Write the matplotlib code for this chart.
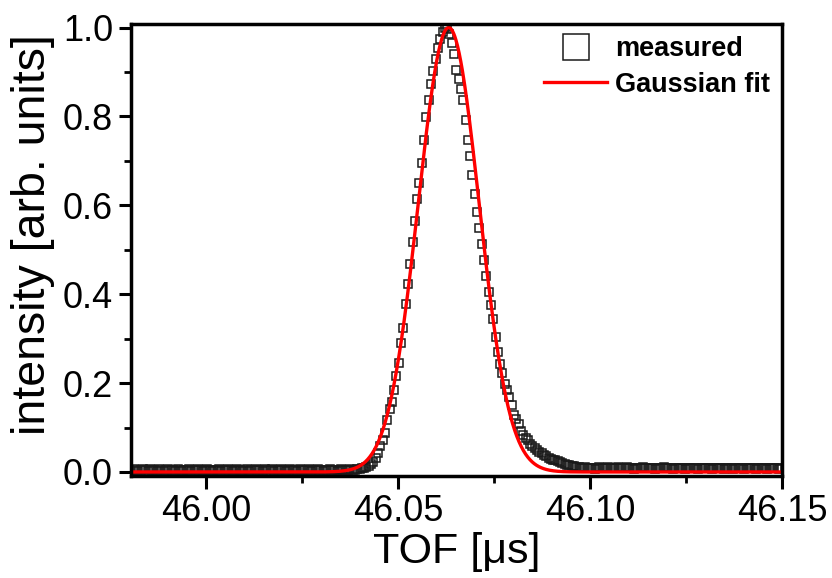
import numpy as np
import matplotlib
matplotlib.use("Agg")
import matplotlib.pyplot as plt
from matplotlib.ticker import MultipleLocator

# TOF sampling: start and step of the measured bins [us]
tof_start = 45.98
tof_step = 0.0006

# measured intensity, left baseline (45.980 .. 46.0394)
baseline_left = [
    0.005, 0.003, 0.006, 0.004, 0.002, 0.005, 0.007, 0.004, 0.003, 0.006,
    0.004, 0.005, 0.002, 0.006, 0.004, 0.003, 0.005, 0.007, 0.004, 0.005,
    0.003, 0.006, 0.004, 0.002, 0.005, 0.004, 0.006, 0.003, 0.005, 0.004,
    0.007, 0.004, 0.003, 0.005, 0.006, 0.004, 0.002, 0.005, 0.004, 0.006,
    0.003, 0.005, 0.004, 0.007, 0.005, 0.003, 0.004, 0.006, 0.005, 0.003,
    0.004, 0.006, 0.003, 0.005, 0.004, 0.007, 0.004, 0.005, 0.003, 0.006,
    0.004, 0.005, 0.006, 0.003, 0.004, 0.005, 0.007, 0.004, 0.003, 0.005,
    0.006, 0.004, 0.005, 0.003, 0.006, 0.004, 0.005, 0.004, 0.006, 0.003,
    0.005, 0.004, 0.006, 0.005, 0.003, 0.005, 0.004, 0.006, 0.004, 0.005,
    0.003, 0.005, 0.006, 0.004, 0.005, 0.004, 0.006, 0.005, 0.005, 0.006,
]

# measured intensity over the peak (46.0400 .. 46.0970)
peak = [
    0.006, 0.008, 0.010, 0.012, 0.014, 0.017, 0.023, 0.032, 0.043, 0.058,
    0.072, 0.087, 0.118, 0.141, 0.158, 0.185, 0.216, 0.246, 0.290, 0.325,
    0.379, 0.423, 0.469, 0.517, 0.565, 0.615, 0.650, 0.695, 0.748, 0.798,
    0.838, 0.874, 0.902, 0.930, 0.955, 0.975, 0.990, 0.998, 0.996, 0.985,
    0.965, 0.940, 0.905, 0.885, 0.862, 0.836, 0.793, 0.747, 0.712, 0.668,
    0.625, 0.586, 0.549, 0.512, 0.476, 0.441, 0.406, 0.375, 0.345, 0.303,
    0.270, 0.243, 0.222, 0.199, 0.185, 0.169, 0.150, 0.128, 0.120, 0.109,
    0.093, 0.083, 0.077, 0.072, 0.063, 0.058, 0.053, 0.049, 0.046, 0.042,
    0.038, 0.035, 0.031, 0.029, 0.027, 0.026, 0.024, 0.023, 0.021, 0.018,
    0.016, 0.015, 0.014, 0.013, 0.012, 0.011,
]

# measured intensity, right baseline (46.0976 .. 46.1498)
baseline_right = [
    0.010, 0.009, 0.011, 0.008, 0.010, 0.009, 0.007, 0.010, 0.011, 0.009,
    0.008, 0.010, 0.012, 0.009, 0.008, 0.010, 0.011, 0.009, 0.010, 0.008,
    0.011, 0.009, 0.010, 0.007, 0.009, 0.010, 0.008, 0.011, 0.009, 0.008,
    0.010, 0.009, 0.007, 0.010, 0.008, 0.009, 0.011, 0.008, 0.009, 0.010,
    0.007, 0.009, 0.008, 0.010, 0.009, 0.007, 0.008, 0.010, 0.009, 0.008,
    0.009, 0.007, 0.010, 0.008, 0.009, 0.008, 0.010, 0.007, 0.009, 0.008,
    0.008, 0.010, 0.007, 0.009, 0.008, 0.009, 0.007, 0.008, 0.010, 0.008,
    0.009, 0.007, 0.008, 0.009, 0.008, 0.010, 0.007, 0.009, 0.008, 0.008,
    0.009, 0.007, 0.008, 0.010, 0.008, 0.009, 0.007, 0.009,
]

# Gaussian fit parameters
fit_amp = 1.0
fit_center = 46.0632
fit_sigma = 0.0079
fit_offset = 0.0

x_ticks = [46.00, 46.05, 46.10, 46.15]
y_ticks = [0.0, 0.2, 0.4, 0.6, 0.8, 1.0]

intensity = np.array(baseline_left + peak + baseline_right)
tof = tof_start + tof_step * np.arange(len(intensity))

tof_fit = np.linspace(tof_start, 46.15, 1200)
intensity_fit = fit_offset + fit_amp * np.exp(-(tof_fit - fit_center) ** 2 / (2 * fit_sigma ** 2))

plt.rcParams['font.family'] = ['Liberation Sans', 'DejaVu Sans']

fig = plt.figure(figsize=(8.32, 5.78), dpi=100)
ax = fig.add_axes([0.1575, 0.1765, 0.7825, 0.782])

ax.plot(tof, intensity, linestyle='none', marker='s', markersize=6.3,
        markerfacecolor='none', markeredgecolor='#1a1a1a', markeredgewidth=1.1,
        label='measured')
ax.plot(tof_fit, intensity_fit, color='red', linewidth=2.4, label='Gaussian fit')

ax.set_xlim(45.9805, 46.15)
ax.set_ylim(-0.009, 1.008)
ax.set_xticks(x_ticks)
ax.set_xticklabels([f"{v:.2f}" for v in x_ticks])
ax.set_yticks(y_ticks)
ax.set_yticklabels([f"{v:.1f}" for v in y_ticks])
ax.xaxis.set_minor_locator(MultipleLocator(0.025))
ax.yaxis.set_minor_locator(MultipleLocator(0.1))

for side in ax.spines.values():
    side.set_linewidth(2.5)
ax.tick_params(which='major', direction='out', length=9, width=2.2, labelsize=26, pad=4)
ax.tick_params(which='minor', direction='out', length=5, width=2.0)

ax.set_xlabel('TOF [\u03bcs]', fontsize=31, labelpad=2)
ax.set_ylabel('intensity [arb. units]', fontsize=33.5)
ax.yaxis.set_label_coords(-0.117, 0.535)

ax.legend(loc='upper right', frameon=False, markerscale=2.9, handlelength=2.3,
          prop={'weight': 'bold', 'size': 19.5}, borderaxespad=0.05, labelspacing=0.35,
          handletextpad=0.3)

fig.savefig('out.png', dpi=100)
